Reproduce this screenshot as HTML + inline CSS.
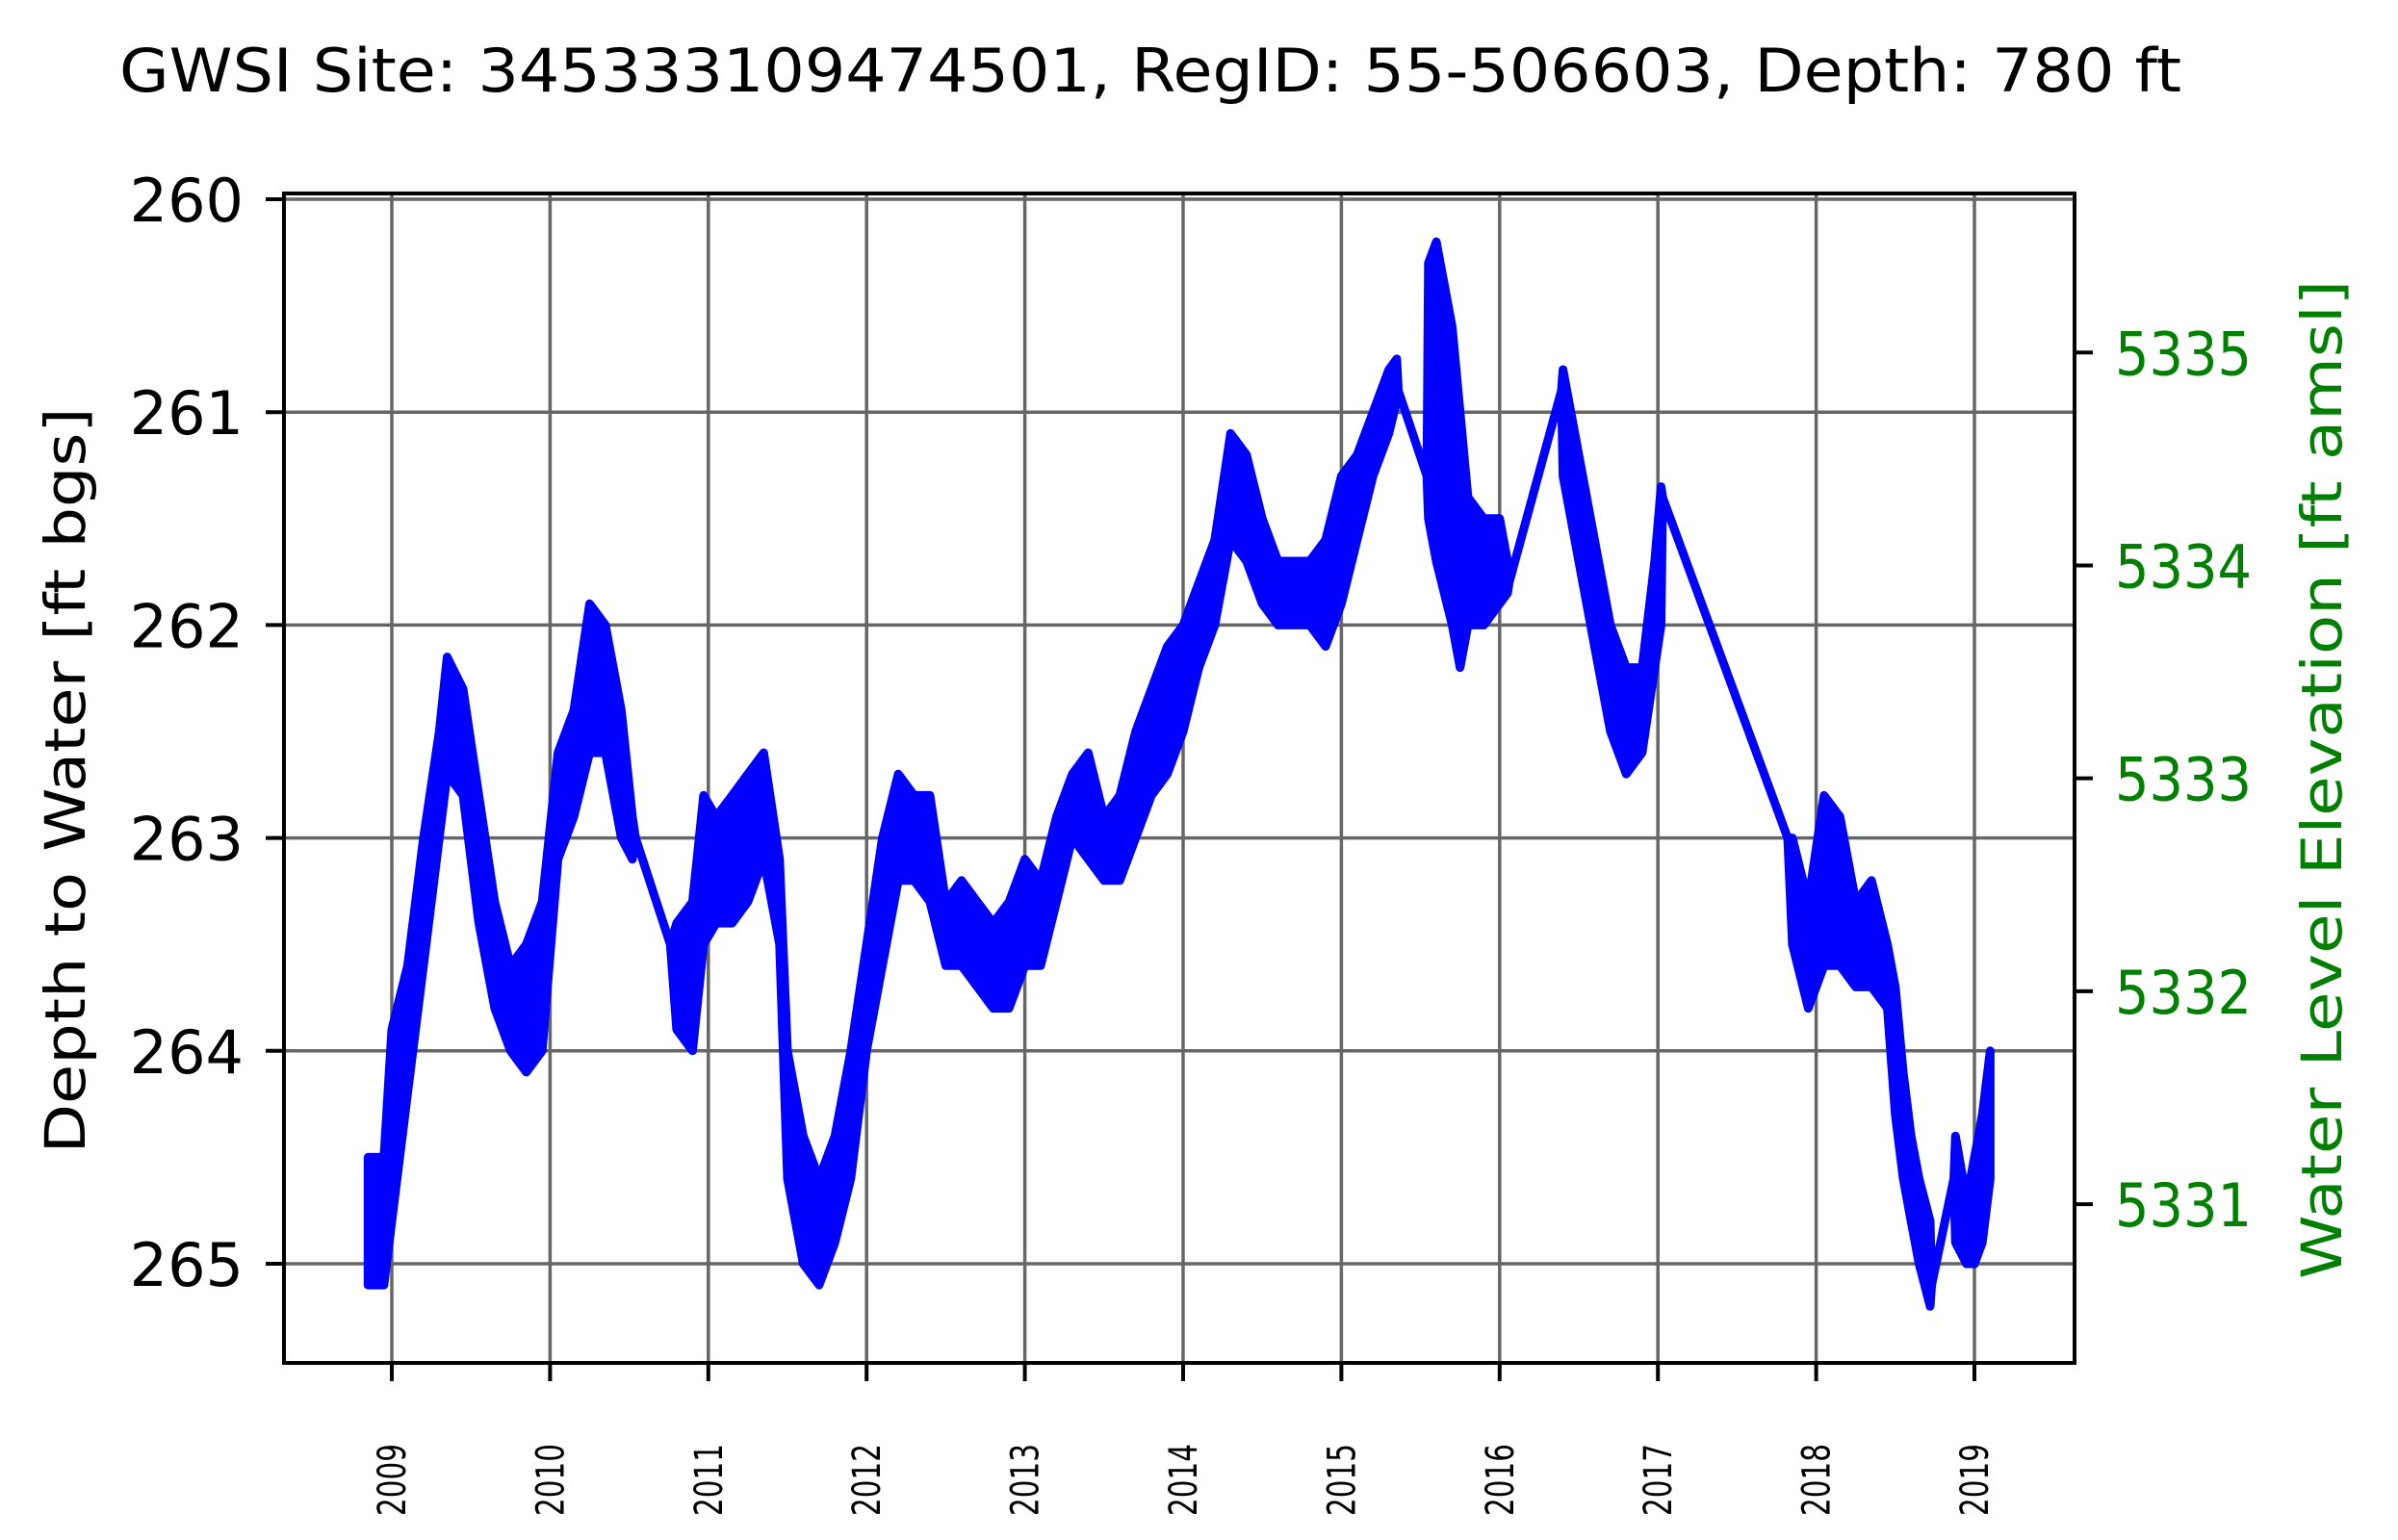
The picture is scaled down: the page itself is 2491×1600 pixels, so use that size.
<!DOCTYPE html>
<html><head><meta charset="utf-8">
<style>
html,body{margin:0;padding:0;background:#fff;}
svg{display:block;}
text{font-family:"DejaVu Sans","Liberation Sans",sans-serif;}
</style></head>
<body>
<svg id="chart" width="2491" height="1600" viewBox="0 0 2491 1600">
  <text x="124" y="95" font-size="62" textLength="2142" lengthAdjust="spacingAndGlyphs">GWSI Site: 345333109474501, RegID: 55-506603, Depth: 780 ft</text>
  <g id="grid"></g>
  <g id="series"></g>
  <rect x="295" y="201" width="1860" height="1215" fill="none" stroke="#000" stroke-width="4"/>
  <g id="axes"></g>
  <text transform="translate(88,811) rotate(-90)" text-anchor="middle" font-size="58" textLength="775" lengthAdjust="spacingAndGlyphs">Depth to Water [ft bgs]</text>
  <text transform="translate(2432,810) rotate(-90)" text-anchor="middle" font-size="58" fill="#008000" textLength="1038" lengthAdjust="spacingAndGlyphs">Water Level Elevation [ft amsl]</text>
</svg>
<script>
// data
const times = [2008.85,2008.95,2009.0,2009.1,2009.2,2009.3,2009.35,2009.45,2009.55,2009.65,2009.75,2009.85,2009.95,2010.05,2010.15,2010.25,2010.35,2010.45,2010.52,2010.54,2010.76,2010.8,2010.9,2010.97,2011.05,2011.15,2011.25,2011.35,2011.45,2011.5,2011.6,2011.7,2011.8,2011.9,2012.0,2012.1,2012.2,2012.3,2012.4,2012.5,2012.6,2012.7,2012.8,2012.9,2013.0,2013.1,2013.2,2013.3,2013.4,2013.5,2013.6,2013.7,2013.8,2013.9,2014.0,2014.1,2014.2,2014.3,2014.4,2014.5,2014.6,2014.7,2014.8,2014.9,2015.0,2015.1,2015.2,2015.3,2015.35,2015.36,2015.54,2015.55,2015.6,2015.7,2015.75,2015.8,2015.9,2016.0,2016.05,2016.06,2016.39,2016.4,2016.5,2016.6,2016.7,2016.8,2016.9,2016.98,2017.02,2017.03,2017.82,2017.85,2017.95,2018.05,2018.15,2018.25,2018.35,2018.45,2018.5,2018.55,2018.6,2018.65,2018.72,2018.73,2018.87,2018.88,2018.95,2019.0,2019.05,2019.1];
const bandTop = [264.5,264.5,263.9,263.6,263.0,262.5,262.15,262.3,262.8,263.3,263.6,263.5,263.3,262.6,262.4,261.9,262.0,262.4,262.9,263.0,263.5,263.4,263.3,262.8,262.9,262.8,262.7,262.6,263.1,264.0,264.4,264.6,264.4,264.0,263.5,263.0,262.7,262.8,262.8,263.3,263.2,263.3,263.4,263.3,263.1,263.2,262.9,262.7,262.6,262.9,262.8,262.5,262.3,262.1,262.0,261.8,261.6,261.1,261.2,261.5,261.7,261.7,261.7,261.6,261.3,261.2,261.0,260.8,260.75,260.9,261.3,260.3,260.2,260.6,261.0,261.4,261.5,261.5,261.7,261.8,260.9,260.8,261.2,261.6,262.0,262.2,262.2,261.7,261.35,261.4,263.0,263.0,263.3,262.8,262.9,263.3,263.2,263.5,263.7,264.1,264.4,264.6,264.8,265.1,264.6,264.4,264.7,264.5,264.3,264.0];
const bandBottom = [265.1,265.1,264.8,264.2,263.6,263.0,262.7,262.8,263.4,263.8,264.0,264.1,264.0,263.1,262.9,262.6,262.6,263.0,263.1,263.0,263.5,263.9,264.0,263.5,263.4,263.4,263.3,263.1,263.5,264.6,265.0,265.1,264.9,264.6,264.0,263.6,263.2,263.2,263.3,263.6,263.6,263.7,263.8,263.8,263.6,263.6,263.3,263.0,263.1,263.2,263.2,263.0,262.8,262.7,262.5,262.2,262.0,261.6,261.7,261.9,262.0,262.0,262.0,262.1,261.9,261.6,261.3,261.1,260.95,260.9,261.3,261.5,261.7,262.0,262.2,262.0,262.0,261.9,261.85,261.8,260.9,261.3,261.7,262.1,262.5,262.7,262.6,262.2,262.0,261.4,263.0,263.5,263.8,263.6,263.6,263.7,263.7,263.8,264.3,264.6,264.8,265.0,265.2,265.1,264.6,264.9,265.0,265.0,264.9,264.6];
const yTicks = [260,261,262,263,264,265];
const yTickLabels = ["260","261","262","263","264","265"];
const xTicks = [2009,2010,2011,2012,2013,2014,2015,2016,2017,2018,2019];
const xTickLabels = ["2009","2010","2011","2012","2013","2014","2015","2016","2017","2018","2019"];
const rightTicks = [5331,5332,5333,5334,5335];
const rightTickLabels = ["5331","5332","5333","5334","5335"];
const elevOffset = 5595.72;

const NS="http://www.w3.org/2000/svg";
function X(t){return 407+(t-2009)*164.4;}
function Y(d){return 207+(d-260)*221.2;}
function mk(tag,attrs,parent){const e=document.createElementNS(NS,tag);for(const k in attrs)e.setAttribute(k,attrs[k]);parent.appendChild(e);return e;}
const grid=document.getElementById('grid'), axes=document.getElementById('axes'), series=document.getElementById('series');

xTicks.forEach((t,i)=>{
  const g=mk('line',{x1:X(t),x2:X(t),y1:201,y2:1416,stroke:'#666',"stroke-width":3.5},grid);
  
  
  const tk=mk('line',{x1:X(t),x2:X(t),y1:1416,y2:1435,stroke:'#000',"stroke-width":4},axes);
  
  
  const lb=mk('text',{transform:`translate(${X(t)+14},1500) rotate(-90)`,"text-anchor":"end","font-size":40,textLength:75,lengthAdjust:'spacingAndGlyphs'},axes);
  lb.textContent=xTickLabels[i];
  
  
});
yTicks.forEach((d,i)=>{
  const g=mk('line',{x1:295,x2:2155,y1:Y(d),y2:Y(d),stroke:'#666',"stroke-width":3.5},grid);
  
  
  const tk=mk('line',{x1:276,x2:295,y1:Y(d),y2:Y(d),stroke:'#000',"stroke-width":4},axes);
  
  
  const lb=mk('text',{x:253,y:Y(d)+23,"text-anchor":"end","font-size":62},axes);
  lb.textContent=yTickLabels[i];
  
  
});
rightTicks.forEach((e,i)=>{
  const y=Y(elevOffset-e);
  const tk=mk('line',{x1:2155,x2:2174,y1:y,y2:y,stroke:'#000',"stroke-width":4},axes);
  
  
  const lb=mk('text',{x:2197,y:y+23,"font-size":62,fill:'#008000',textLength:142,lengthAdjust:'spacingAndGlyphs'},axes);
  lb.textContent=rightTickLabels[i];
  
  
});
let p='';
times.forEach((t,i)=>{p+=(i?'L':'M')+X(t).toFixed(1)+','+Y(bandTop[i]).toFixed(1);});
for(let i=times.length-1;i>=0;i--){p+='L'+X(times[i]).toFixed(1)+','+Y(bandBottom[i]).toFixed(1);}
p+='Z';
const band=mk('path',{d:p,fill:'#0000ff',stroke:'#0000ff',"stroke-width":9,"stroke-linejoin":"round"},series);


</script>
</body></html>
